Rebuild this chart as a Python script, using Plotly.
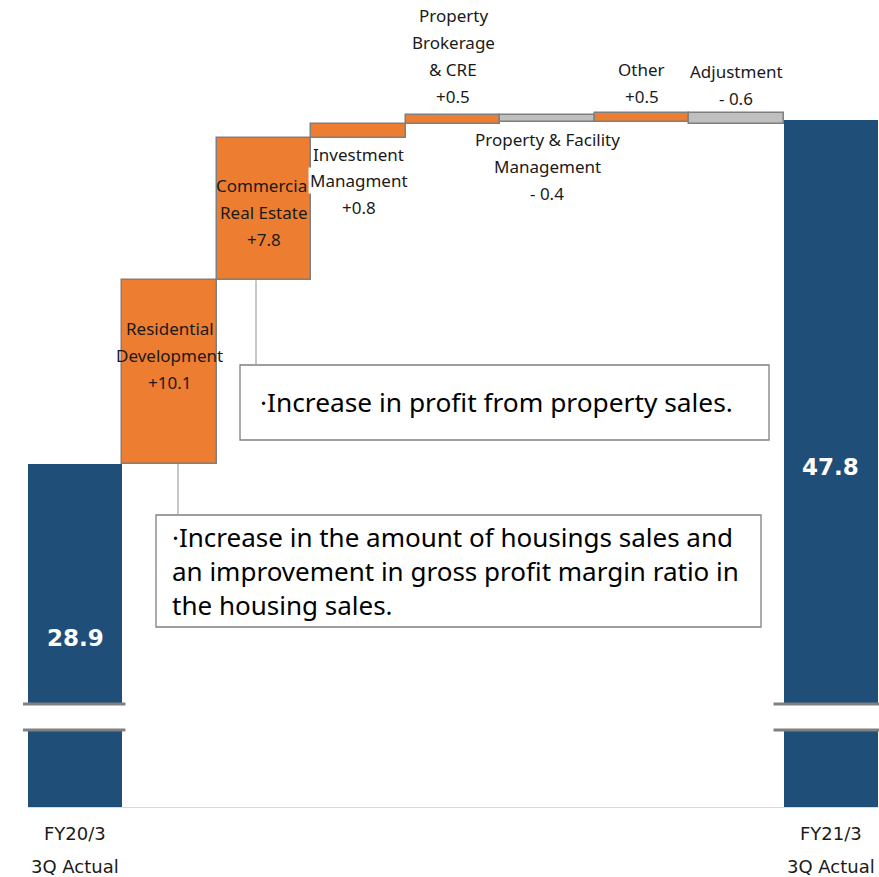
import plotly.graph_objects as go

# ---------------- data ----------------
start_label = ["FY20/3", "3Q Actual"]
end_label = ["FY21/3", "3Q Actual"]
start_value = 28.9
end_value = 47.8
delta_names = [
    ["Residential", "Development"],
    ["Commercial", "Real Estate"],
    ["Investment", "Managment"],
    ["Property", "Brokerage", "& CRE"],
    ["Property & Facility", "Management"],
    ["Other"],
    ["Adjustment"],
]
delta_values = [10.1, 7.8, 0.8, 0.5, -0.4, 0.5, -0.6]
note_upper = ["·Increase in profit from property sales."]
note_lower = [
    "·Increase in the amount of housings sales and",
    "an improvement in gross profit margin ratio in",
    "the housing sales.",
]

# ---------------- styling / layout constants ----------------
ORANGE = "#ED7D31"
BLUE = "#1F4E79"
GREY = "#BFBFBF"
OUTLINE = "#7F7F7F"
TXT = "#1a1a1a"
LAB_FONT = "Noto Sans"
TICK_FONT = "DejaVu Sans"

W, H = 879, 877
ML, MR, MT, MB = 28, 1, 0, 70
PW, PH = W - ML - MR, H - MT - MB
YMIN, YMAX = 10.054, 54.395


def pxx(x):
    return (x - ML) / PW


def pyy(y):
    return (PH - (y - MT)) / PH


def val2paper(v):
    return (v - YMIN) / (YMAX - YMIN)


n = len(delta_values) + 2
xs = list(range(n))
bases, heights, colors, lw = [0], [start_value], [BLUE], [0]
run = start_value
for d in delta_values:
    bases.append(run)
    heights.append(d)
    colors.append(ORANGE if d > 0 else GREY)
    lw.append(1.5)
    run = round(run + d, 2)
bases.append(0)
heights.append(end_value)
colors.append(BLUE)
lw.append(0)

fig = go.Figure()
fig.add_trace(go.Bar(
    x=xs, y=heights, base=bases,
    marker=dict(color=colors, line=dict(color=OUTLINE, width=lw)),
    width=1.0, hoverinfo="skip", showlegend=False,
))

shapes = []
annotations = []

# axis break marks on the two total bars
for i in (0, n - 1):
    left_px = ML + PW * i / n
    right_px = ML + PW * (i + 1) / n
    x0 = pxx(left_px - (5 if i == 0 else 10))
    x1 = min(pxx(right_px + 3), pxx(W))
    shapes.append(dict(type="rect", xref="paper", yref="paper",
                       x0=x0, x1=x1, y0=pyy(730), y1=pyy(704),
                       fillcolor="white", line=dict(width=0), layer="above"))
    for yy in (704, 730):
        shapes.append(dict(type="line", xref="paper", yref="paper",
                           x0=x0, x1=x1, y0=pyy(yy), y1=pyy(yy),
                           line=dict(color="#808080", width=3), layer="above"))

# note boxes
shapes.append(dict(type="rect", xref="paper", yref="paper",
                   x0=pxx(240), x1=pxx(769), y0=pyy(440), y1=pyy(365),
                   fillcolor="white", line=dict(color=OUTLINE, width=1.3), layer="above"))
shapes.append(dict(type="rect", xref="paper", yref="paper",
                   x0=pxx(156), x1=pxx(761), y0=pyy(627), y1=pyy(515),
                   fillcolor="white", line=dict(color=OUTLINE, width=1.3), layer="above"))
# connectors from bar bottoms to the boxes
shapes.append(dict(type="line", xref="paper", yref="paper",
                   x0=pxx(256), x1=pxx(256), y0=val2paper(bases[2]), y1=pyy(365),
                   line=dict(color="#A0A0A0", width=1.2), layer="above"))
shapes.append(dict(type="line", xref="paper", yref="paper",
                   x0=pxx(178), x1=pxx(178), y0=val2paper(bases[1]), y1=pyy(515),
                   line=dict(color="#A0A0A0", width=1.2), layer="above"))

# delta labels (first-line pixel y, line spacing 27)
first_line_y = [328, 185, 154, 16, 139, 69, 72]
for k, (names, d) in enumerate(zip(delta_names, delta_values)):
    txt = f"+{d}" if d > 0 else f"- {abs(d)}"
    lines = names + [txt]
    for j, line in enumerate(lines):
        annotations.append(dict(
            x=k + 1, xref="x", y=pyy(first_line_y[k] + 27 * j), yref="paper",
            text=line, showarrow=False, xanchor="center", yanchor="middle",
            font=dict(family=LAB_FONT, size=17, color=TXT),
            bgcolor="rgba(255,255,255,1)" if k == 2 else None,
        ))

# total values
annotations.append(dict(x=0, xref="x", y=pyy(638), yref="paper", text=f"<b>{start_value}</b>",
                        showarrow=False, xanchor="center", yanchor="middle",
                        font=dict(family="DejaVu Sans", size=23, color="white")))
annotations.append(dict(x=n - 1, xref="x", y=pyy(467), yref="paper", text=f"<b>{end_value}</b>",
                        showarrow=False, xanchor="center", yanchor="middle",
                        font=dict(family="DejaVu Sans", size=23, color="white")))

# category labels for totals
for i, lab in ((0, start_label), (n - 1, end_label)):
    for j, line in enumerate(lab):
        annotations.append(dict(x=i, xref="x", y=pyy(833 + 33 * j), yref="paper",
                                text=line, showarrow=False, yanchor="middle",
                                font=dict(family=TICK_FONT, size=18, color=TXT)))

# note texts
annotations.append(dict(x=pxx(258), xref="paper", y=pyy(402), yref="paper",
                        text="<br>".join(note_upper), showarrow=False,
                        xanchor="left", yanchor="middle", align="left",
                        font=dict(family=LAB_FONT, size=26.3, color="black")))
annotations.append(dict(x=pxx(170), xref="paper", y=pyy(571), yref="paper",
                        text="<br>".join(note_lower), showarrow=False,
                        xanchor="left", yanchor="middle", align="left",
                        font=dict(family=LAB_FONT, size=26, color="black")))

fig.update_layout(
    width=W, height=H,
    margin=dict(l=ML, r=MR, t=MT, b=MB, autoexpand=False),
    paper_bgcolor="white", plot_bgcolor="white",
    bargap=0,
    xaxis=dict(range=[-0.5, n - 0.5], showticklabels=False, showgrid=False,
               zeroline=False, showline=True, linecolor="#D9D9D9", linewidth=1, ticks=""),
    yaxis=dict(range=[YMIN, YMAX], visible=False, showgrid=False, zeroline=False),
    shapes=shapes, annotations=annotations,
)
fig.write_html(
    "out.html",
    config={"displayModeBar": False},
    post_script="document.body.style.margin='0';document.body.style.overflow='hidden';",
)
